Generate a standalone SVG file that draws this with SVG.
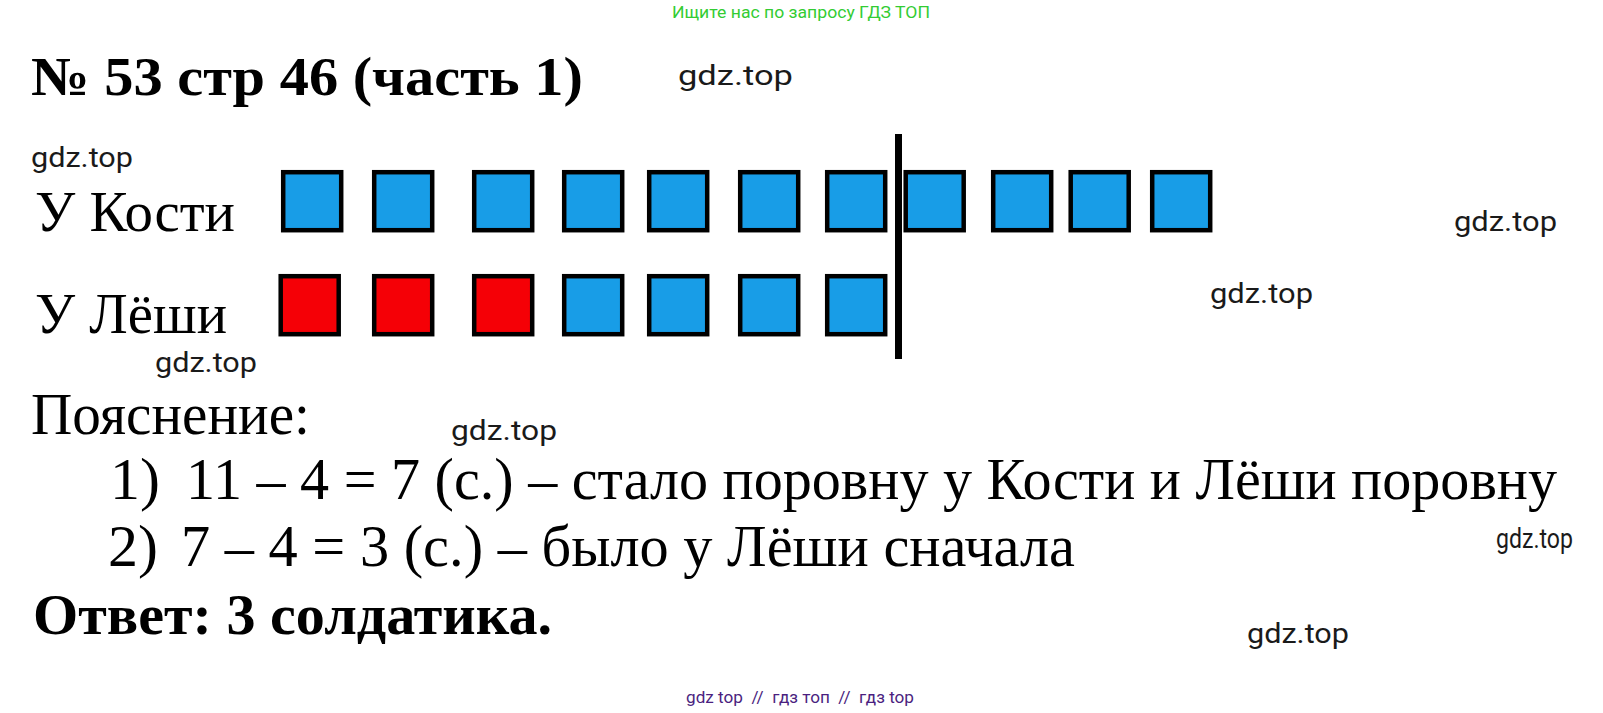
<svg xmlns="http://www.w3.org/2000/svg" width="1603" height="713" viewBox="0 0 1603 713">
<style>
.serif{font-family:"Liberation Serif","Times New Roman",serif;fill:#000}
.b{font-weight:bold}
.wm{font-family:Roboto,"Liberation Sans",sans-serif;fill:#1a1a1a;font-size:28px}
.blue{fill:#189de7;stroke:#000;stroke-width:4.5}
.red{fill:#f50006;stroke:#000;stroke-width:4.5}
</style>
<rect width="1603" height="713" fill="#fff"/>
<text x="801" y="18" text-anchor="middle" font-family="Roboto,'Liberation Sans',sans-serif" font-size="16" fill="#33cc33" textLength="258" lengthAdjust="spacingAndGlyphs">Ищите нас по запросу ГДЗ ТОП</text>
<text class="serif b" x="31" y="95" font-size="55" textLength="552" lengthAdjust="spacingAndGlyphs">№ 53 стр 46 (часть 1)</text>
<g id="watermarks">
<text class="wm" x="678" y="85" textLength="115" lengthAdjust="spacingAndGlyphs">gdz.top</text>
<text class="wm" x="31" y="167" textLength="102" lengthAdjust="spacingAndGlyphs">gdz.top</text>
<text class="wm" x="1454" y="231" textLength="103" lengthAdjust="spacingAndGlyphs">gdz.top</text>
<text class="wm" x="1210" y="303" textLength="103" lengthAdjust="spacingAndGlyphs">gdz.top</text>
<text class="wm" x="155" y="372" textLength="102" lengthAdjust="spacingAndGlyphs">gdz.top</text>
<text class="wm" x="451" y="440" textLength="106" lengthAdjust="spacingAndGlyphs">gdz.top</text>
<text class="wm" x="1496" y="548" font-size="23" textLength="77" lengthAdjust="spacingAndGlyphs">gdz.top</text>
<text class="wm" x="1247" y="643" textLength="102" lengthAdjust="spacingAndGlyphs">gdz.top</text>
</g>
<g id="label-kosti"><text class="serif" x="35" y="231" font-size="58" textLength="200" lengthAdjust="spacingAndGlyphs">У Кости</text></g>
<g id="label-leshi"><text class="serif" x="35" y="333" font-size="58" textLength="192" lengthAdjust="spacingAndGlyphs">У Лёши</text></g>
<g id="row-kosti">
<rect class="blue" x="283.2" y="172.2" width="58" height="58"/>
<rect class="blue" x="374.2" y="172.2" width="58" height="58"/>
<rect class="blue" x="474.2" y="172.2" width="58" height="58"/>
<rect class="blue" x="564.2" y="172.2" width="58" height="58"/>
<rect class="blue" x="649.2" y="172.2" width="58" height="58"/>
<rect class="blue" x="740.2" y="172.2" width="58" height="58"/>
<rect class="blue" x="827.2" y="172.2" width="58" height="58"/>
<rect class="blue" x="905.7" y="172.2" width="58" height="58"/>
<rect class="blue" x="993.2" y="172.2" width="58" height="58"/>
<rect class="blue" x="1070.7" y="172.2" width="58" height="58"/>
<rect class="blue" x="1152.2" y="172.2" width="58" height="58"/>
</g>
<g id="row-leshi">
<rect class="red" x="280.7" y="276.2" width="58" height="58"/>
<rect class="red" x="374.2" y="276.2" width="58" height="58"/>
<rect class="red" x="474.2" y="276.2" width="58" height="58"/>
<rect class="blue" x="564.2" y="276.2" width="58" height="58"/>
<rect class="blue" x="649.2" y="276.2" width="58" height="58"/>
<rect class="blue" x="740.2" y="276.2" width="58" height="58"/>
<rect class="blue" x="827.2" y="276.2" width="58" height="58"/>
</g>
<g id="connectors">
<line x1="898.5" y1="134" x2="898.5" y2="359" stroke="#000" stroke-width="7"/>
</g>
<g id="explanation">
<text class="serif" x="31" y="434" font-size="60" textLength="279" lengthAdjust="spacingAndGlyphs">Пояснение:</text>
<text class="serif" x="110" y="499" font-size="60">1)</text>
<text class="serif" x="186" y="499" font-size="60" textLength="1371" lengthAdjust="spacingAndGlyphs">11 – 4 = 7 (с.) – стало поровну у Кости и Лёши поровну</text>
<text class="serif" x="108" y="566" font-size="60">2)</text>
<text class="serif" x="181" y="566" font-size="60" textLength="894" lengthAdjust="spacingAndGlyphs">7 – 4 = 3 (с.) – было у Лёши сначала</text>
</g>
<g id="answer"><text class="serif b" x="33" y="634" font-size="58" textLength="519" lengthAdjust="spacingAndGlyphs">Ответ: 3 солдатика.</text></g>
<text x="800" y="703" text-anchor="middle" font-family="Roboto,'Liberation Sans',sans-serif" font-size="16" fill="#4b1f80" textLength="228" lengthAdjust="spacingAndGlyphs" xml:space="preserve">gdz top  //  гдз топ  //  гдз top</text>
</svg>
